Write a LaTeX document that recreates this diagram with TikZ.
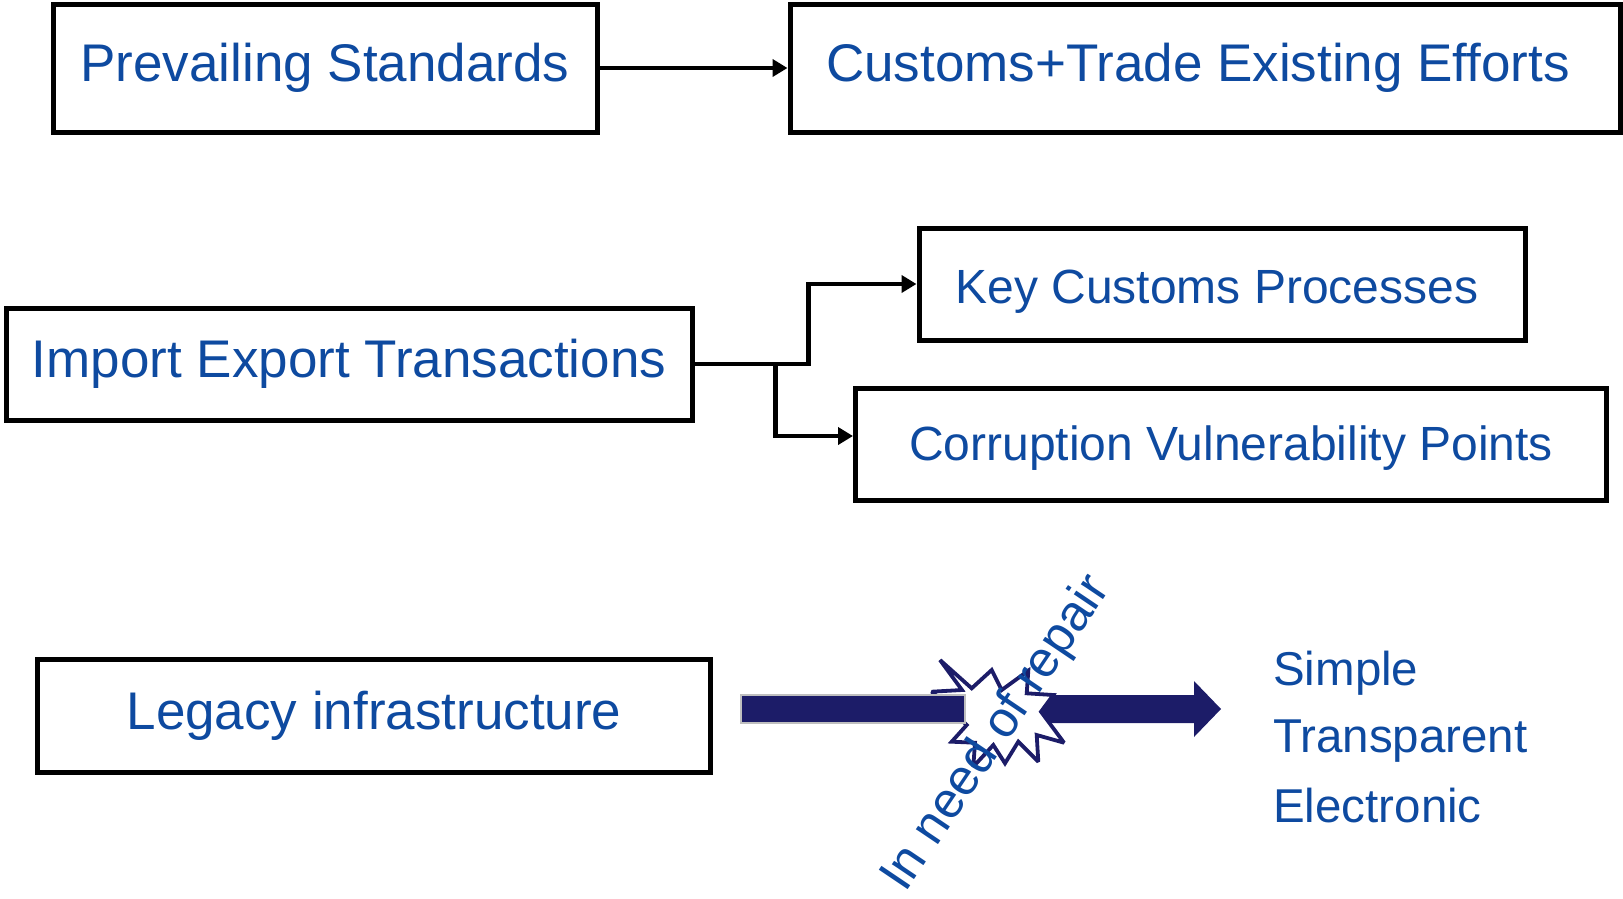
\documentclass[tikz,border=0pt]{standalone}
\usepackage{fontspec}
\setmainfont{Liberation Sans}
\usetikzlibrary{arrows.meta,calc}
\definecolor{txtblue}{RGB}{14,74,160}
\definecolor{navy}{RGB}{28,28,104}
\begin{document}
\begin{tikzpicture}[x=1pt,y=-1pt,
  box/.style={draw=black,line width=5pt,inner sep=0pt,text=txtblue,rectangle},
  big/.style={font=\fontsize{53}{60}\selectfont,text height=38pt,text depth=11pt},
  mid/.style={font=\fontsize{48}{56}\selectfont},
  conn/.style={draw=black,line width=4.5pt,-{Triangle[length=15pt,width=17pt]}},
  plain/.style={text=txtblue,inner sep=0pt},
]
\useasboundingbox (0,0) rectangle (1623,898);

% boxes
\node[box,big,minimum width=544pt,minimum height=128pt] (prev) at (325,68) {Prevailing Standards};
\node[box,big,minimum width=830pt,minimum height=128pt] (cust) at (1205,68) {Customs+Trade Existing Efforts\hspace*{14pt}};
\node[box,mid,text height=42pt,text depth=3pt,minimum width=606pt,minimum height=112pt] (key) at (1222,284) {Key Customs Processes\hspace*{10pt}};
\node[box,big,minimum width=686pt,minimum height=112pt] (imp) at (349,364) {Import Export Transactions};
\node[box,mid,text height=39pt,text depth=6pt,minimum width=751pt,minimum height=112pt] (corr) at (1231,444) {Corruption Vulnerability Points};
\node[box,big,minimum width=673pt,minimum height=113pt] (leg) at (374,716) {Legacy infrastructure};

% connectors
\draw[conn] (prev.east) -- (cust.west);
\draw[conn] (imp.east) -- ++(114,0) |- (key.west);
\coordinate (cin) at ([yshift=8pt]corr.west);
\draw[conn] (imp.east) -- ++(81,0) |- (cin);

% thick arrow, right part
\fill[navy] (1040,695) -- (1194,695) -- (1194,681) -- (1221,709) -- (1194,737) -- (1194,723) -- (1040,723) -- cycle;

% explosion
\draw[navy,fill=white,line width=3.8pt,line join=miter,miter limit=2.5]
  (940,660) -- (971.7,688.3) -- (991.7,670) -- (1001.7,690) -- (1028.3,670.7)
  -- (1026.7,693.3) -- (1053.3,695) -- (1041,711.7) -- (1064,742.7) -- (1036.7,735)
  -- (1038.3,761.7) -- (1018.3,741.7) -- (1005,763.3) -- (993.3,745) -- (973.3,766.7)
  -- (975,742.7) -- (951.7,741.7) -- (966.7,725) -- (931.7,691.7) -- (962,690) -- cycle;

% thick arrow, left bar
\filldraw[fill=navy,draw=black!25,line width=1.5pt] (741,695) rectangle (965,723);

% rotated label
\node[plain,font=\fontsize{50.5}{58}\selectfont,rotate=56] (rep) at (997,734) {In need of repair};

% right texts
\node[plain,font=\fontsize{47.5}{56}\selectfont,anchor=base west] (s1) at (1273,685) {Simple};
\node[plain,font=\fontsize{47.5}{56}\selectfont,anchor=base west] (s2) at (1273,752) {Transparent};
\node[plain,font=\fontsize{47.5}{56}\selectfont,anchor=base west] (s3) at (1273,822) {Electronic};
\end{tikzpicture}
\end{document}
